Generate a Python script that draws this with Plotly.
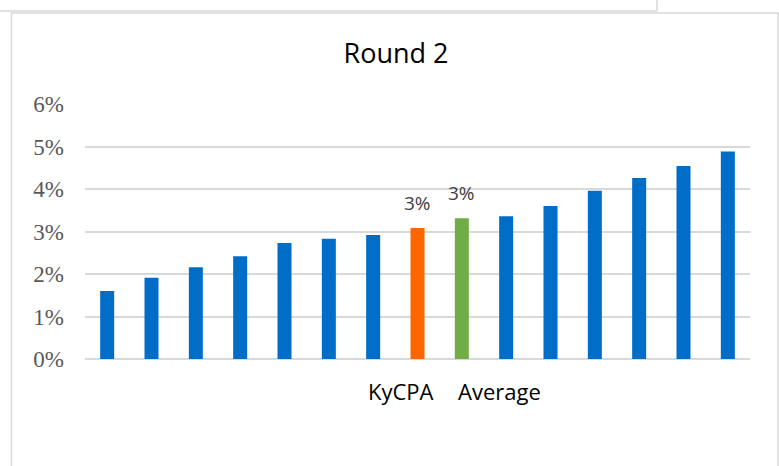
import plotly.graph_objects as go

# ---- data ----
categories = ["", "", "", "", "", "", "", "KyCPA", "Average", "", "", "", "", "", ""]
values = [0.0160, 0.0191, 0.0216, 0.0242, 0.0273, 0.0283, 0.0292, 0.0308,
          0.0331, 0.0336, 0.0360, 0.0396, 0.0426, 0.0454, 0.0488]
bar_labels = ["", "", "", "", "", "", "", "3%", "3%", "", "", "", "", "", ""]
y_tickvals = [0, 0.01, 0.02, 0.03, 0.04, 0.05, 0.06]
y_ticktext = ["0%", "1%", "2%", "3%", "4%", "5%", "6%"]

BLUE, ORANGE, GREEN = "#006DC9", "#FF6600", "#70AD47"
colors = [ORANGE if c == "KyCPA" else GREEN if c == "Average" else BLUE for c in categories]

W, H = 779, 466
ML, MR, MT, MB = 85, 29, 104, 107
PW, PH = W - ML - MR, H - MT - MB

def px(x):
    return (x - ML) / PW

def py(y):
    return (H - MB - y) / PH

xs = list(range(len(values)))

fig = go.Figure(go.Bar(
    x=xs, y=values, marker=dict(color=colors, line=dict(width=0)),
    hoverinfo="skip",
))

annotations = []
# data labels above the highlighted bars
for i, (v, t) in enumerate(zip(values, bar_labels)):
    if t:
        annotations.append(dict(x=i, y=v, xref="x", yref="y", text=t, showarrow=False,
                                xanchor="center", yanchor="bottom", yshift=10,
                                font=dict(family="Open Sans", size=19, color="#404040")))
# category labels (offset as in the original)
label_shift = {"KyCPA": -17, "Average": 38}
for i, c in enumerate(categories):
    if c:
        annotations.append(dict(x=i, y=0, xref="x", yref="paper", text=c, showarrow=False,
                                xanchor="center", yanchor="top", yshift=-15,
                                xshift=label_shift.get(c, 0),
                                font=dict(family="Open Sans", size=22, color="#000000")))

grid = "#D9D9D9"
fig.update_layout(
    width=W, height=H,
    margin=dict(l=ML, r=MR, t=MT, b=MB, pad=0, autoexpand=False),
    paper_bgcolor="white", plot_bgcolor="white",
    bargap=0.684, showlegend=False,
    title=dict(text="Round 2", x=396 / W, xref="container", xanchor="center",
               y=1 - 54 / H, yref="container", yanchor="middle",
               font=dict(family="Open Sans", size=27, color="#000000")),
    xaxis=dict(range=[-0.5, len(values) - 0.5], tickvals=xs, showticklabels=False,
               showgrid=False, zeroline=False, showline=False, ticks="",
               automargin=False),
    yaxis=dict(range=[0, 0.06], tickvals=y_tickvals, ticktext=y_ticktext,
               showgrid=True, gridcolor=grid, gridwidth=1.5,
               zeroline=True, zerolinecolor=grid, zerolinewidth=1.5,
               showline=False, ticks="", ticklabelstandoff=20, automargin=False,
               tickfont=dict(family="Liberation Serif", size=23, color="#595959")),
    annotations=annotations,
    shapes=[
        dict(type="line", xref="paper", yref="paper", x0=px(0), x1=px(657), y0=py(11), y1=py(11),
             line=dict(color=grid, width=1.5)),
        dict(type="line", xref="paper", yref="paper", x0=px(657), x1=px(657), y0=py(0), y1=py(11),
             line=dict(color=grid, width=1.5)),
        dict(type="rect", xref="paper", yref="paper", x0=px(11.5), x1=px(778), y0=py(13), y1=py(470),
             line=dict(color=grid, width=1.5)),
    ],
)

fig.write_html("out.html", config={"displayModeBar": False},
               post_script="document.body.style.margin='0';document.body.style.overflow='hidden';")
